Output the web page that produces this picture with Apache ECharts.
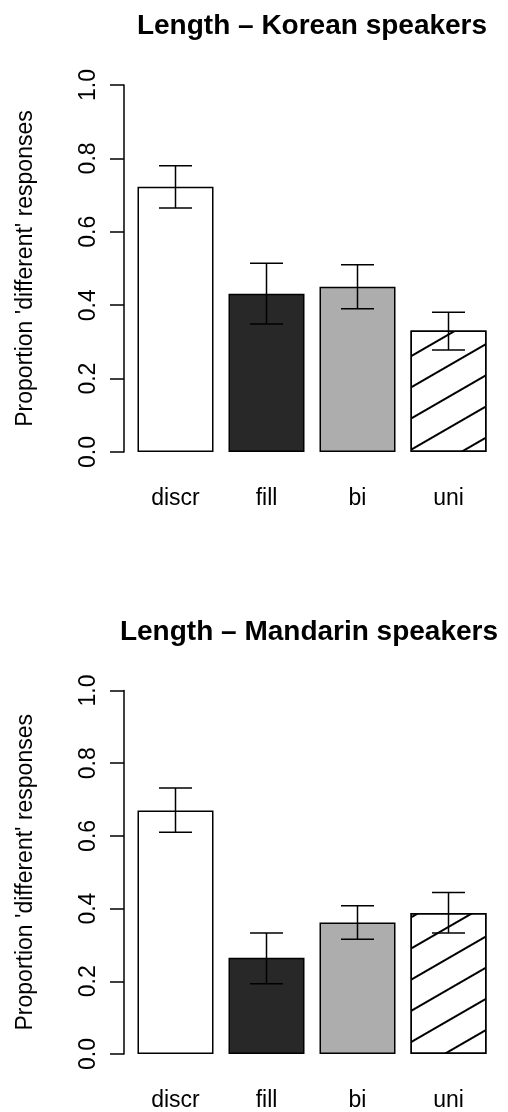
<!DOCTYPE html>
<html>
<head>
<meta charset="utf-8">
<style>
  html, body { margin: 0; padding: 0; background: #fff; }
  #chart { width: 508px; height: 1112px; }
</style>
<script src="https://cdn.jsdelivr.net/npm/echarts@6/dist/echarts.min.js"></script>
</head>
<body>
<div id="chart"></div>
<script>
// categories and values
var categories = ['discr', 'fill', 'bi', 'uni'];

var korMean = [0.723, 0.431, 0.450, 0.331];
var korLow  = [0.665, 0.349, 0.390, 0.278];
var korHigh = [0.780, 0.514, 0.510, 0.381];

var manMean = [0.670, 0.265, 0.362, 0.388];
var manLow  = [0.610, 0.193, 0.316, 0.333];
var manHigh = [0.732, 0.333, 0.408, 0.444];

var titles = ['Length \u2013 Korean speakers', 'Length \u2013 Mandarin speakers'];
var yName = "Proportion 'different' responses";

var FONT = 'Liberation Sans';

// fill of each bar: white, dark, grey, hatched
var barStyles = [
    { color: '#ffffff' },
    { color: '#282828' },
    { color: '#adadad' },
    { color: '#ffffff', decal: { symbol: 'rect', color: '#000', dashArrayX: [1, 0], dashArrayY: [2, 25], symbolSize: 1, rotation: -Math.PI / 6 } }
];

var chart = echarts.init(document.getElementById('chart'));

function barData(vals) {
    return vals.map(function (v, i) {
        return {
            value: v,
            itemStyle: Object.assign({ borderColor: '#000', borderWidth: 1.5 }, barStyles[i])
        };
    });
}

function errData(lo, hi) {
    return lo.map(function (v, i) { return [i, v, hi[i]]; });
}

// vertical line + two caps
function renderErr(params, api) {
    var x = api.value(0);
    var a = api.coord([x, api.value(1)]);
    var b = api.coord([x, api.value(2)]);
    var half = 16.5;
    var st = { stroke: '#000', lineWidth: 1.5 };
    return {
        type: 'group',
        children: [
            { type: 'line', shape: { x1: a[0], y1: a[1], x2: b[0], y2: b[1] }, style: st },
            { type: 'line', shape: { x1: a[0] - half, y1: a[1], x2: a[0] + half, y2: a[1] }, style: st },
            { type: 'line', shape: { x1: b[0] - half, y1: b[1], x2: b[0] + half, y2: b[1] }, style: st }
        ]
    };
}

var grids = [
    { left: 130, width: 364, top: 85, height: 367 },
    { left: 130, width: 364, top: 690.5, height: 367.5 }
];

function xAxis(idx) {
    return {
        type: 'category', gridIndex: idx, data: categories,
        axisLine: { show: false }, axisTick: { show: false },
        axisLabel: { fontSize: 23, fontFamily: FONT, color: '#000', margin: 35 }
    };
}

function yAxis(idx) {
    return {
        type: 'value', gridIndex: idx, min: 0, max: 1, interval: 0.2, offset: 6,
        name: yName, nameLocation: 'middle', nameRotate: 90, nameGap: 87,
        nameTextStyle: { fontSize: 23, fontFamily: FONT, color: '#000' },
        axisLine: { show: true, lineStyle: { color: '#000', width: 1.5 } },
        axisTick: { show: true, length: 14, lineStyle: { color: '#000', width: 1.5 } },
        splitLine: { show: false },
        axisLabel: {
            rotate: 90, fontSize: 23, fontFamily: FONT, color: '#000', margin: 24,
            formatter: function (v) { return v.toFixed(1); }
        }
    };
}

var option = {
    animation: false,
    backgroundColor: '#fff',
    title: [
        { text: titles[0], left: 312, top: 12, textAlign: 'center', padding: 0,
          textStyle: { fontSize: 28, fontWeight: 'bold', fontFamily: FONT, color: '#000' } },
        { text: titles[1], left: 309, top: 618, textAlign: 'center', padding: 0,
          textStyle: { fontSize: 28, fontWeight: 'bold', fontFamily: FONT, color: '#000' } }
    ],
    grid: grids,
    xAxis: [xAxis(0), xAxis(1)],
    yAxis: [yAxis(0), yAxis(1)],
    series: [
        { type: 'bar', xAxisIndex: 0, yAxisIndex: 0, barWidth: 76, data: barData(korMean) },
        { type: 'custom', xAxisIndex: 0, yAxisIndex: 0, z: 5, renderItem: renderErr,
          encode: { x: 0, y: [1, 2] }, data: errData(korLow, korHigh) },
        { type: 'bar', xAxisIndex: 1, yAxisIndex: 1, barWidth: 76, data: barData(manMean) },
        { type: 'custom', xAxisIndex: 1, yAxisIndex: 1, z: 5, renderItem: renderErr,
          encode: { x: 0, y: [1, 2] }, data: errData(manLow, manHigh) }
    ]
};

chart.setOption(option);
</script>
</body>
</html>
